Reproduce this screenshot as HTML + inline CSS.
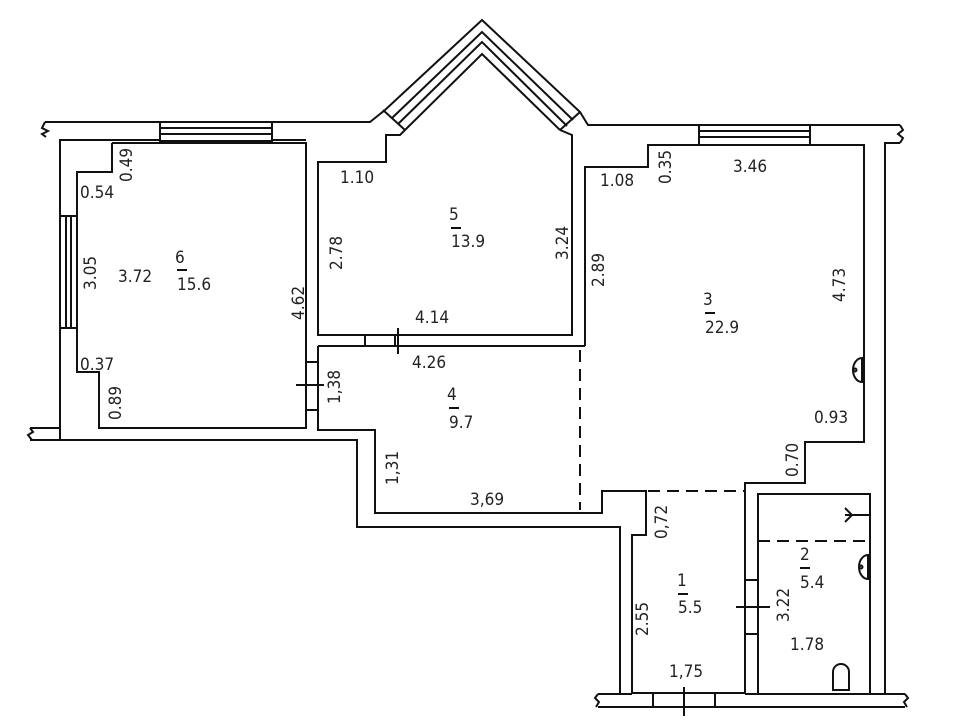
<!DOCTYPE html>
<html><head><meta charset="utf-8"><style>
html,body{margin:0;padding:0;background:#fff;width:960px;height:720px;overflow:hidden}
svg text{font-family:"DejaVu Sans Condensed","Liberation Sans",sans-serif;font-size:17px;fill:#222}
</style></head><body>
<svg width="960" height="720" viewBox="0 0 960 720" xmlns="http://www.w3.org/2000/svg">
<g fill="none" stroke="#111" stroke-width="2" stroke-linejoin="miter">
<polyline points="45,122 370,122 385,110 482,20 580,112 588,125 900,125"/>
<path d="M45,122 l-3,6 l6,3 l-6,3 l4,3 M900,125 l3,5 l-5,4 l5,4 l-3,5"/>
<polyline points="60,440 60,140 160,140"/>
<polyline points="272,140 306,140"/>
<polyline points="392,118 482,32 573,120"/>
<polyline points="398,124 482,42 567,126"/>
<polyline points="405,130 482,54 560,130"/>
<line x1="383" y1="110" x2="405" y2="130"/>
<line x1="580" y1="112" x2="560" y2="130"/>
<rect x="160" y="122" width="112" height="19"/>
<line x1="160" y1="128" x2="272" y2="128"/><line x1="160" y1="134" x2="272" y2="134"/>
<rect x="60" y="216" width="17" height="112"/>
<line x1="66" y1="216" x2="66" y2="328"/><line x1="71" y1="216" x2="71" y2="328"/>
<polyline points="112,143 306,143 306,428 99,428 99,372 77,372 77,172 112,172 112,143"/>
<polyline points="405,130 400,135 386,135 386,162 318,162 318,335 572,335 572,135 560,130"/>
<polyline points="585,346 585,167 648,167 648,145 864,145 864,442 805,442 805,483 745,483 745,693"/>
<rect x="699" y="125" width="111" height="20"/>
<line x1="699" y1="131" x2="810" y2="131"/><line x1="699" y1="137" x2="810" y2="137"/>
<polyline points="900,143 885,143 885,694"/>
<polyline points="318,346 585,346"/>
<polyline points="306,440 30,440"/>
<path d="M30,428 l3,4 l-5,3 l4,5"/>
<polyline points="30,428 60,428"/>
<polyline points="318,346 318,430 375,430 375,513 602,513 602,491 646,491 646,535 632,535 632,693 745,693"/>
<polyline points="306,440 357,440 357,527 620,527 620,694"/>
<rect x="306" y="362" width="12" height="48"/>
<line x1="296" y1="385" x2="324" y2="385"/>
<rect x="365" y="335" width="30" height="11"/>
<line x1="398" y1="328" x2="398" y2="354"/>
<rect x="745" y="580" width="13" height="54"/>
<line x1="736" y1="607" x2="770" y2="607"/>
<rect x="758" y="494" width="112" height="200"/>
<polyline points="598,707 905,707"/>
<polyline points="598,694 632,694"/>
<polyline points="745,694 905,694"/>
<path d="M598,694 l-3,4 l4,4 l-3,5 M905,694 l3,4 l-4,4 l3,5"/>
<line x1="653" y1="694" x2="653" y2="707"/><line x1="715" y1="694" x2="715" y2="707"/>
<line x1="684" y1="687" x2="684" y2="716"/>
<path d="M862,358 a9,12 0 1,0 0,24 z"/><circle cx="855" cy="370" r="1.5"/>
<path d="M868,555 a9,12 0 1,0 0,24 z"/><circle cx="861" cy="567" r="1.5"/>
<line x1="845" y1="515" x2="870" y2="515"/><polyline points="845,508 852,515 845,522"/>
<path d="M833,690 l0,-18 a8,8 0 0,1 16,0 l0,18 z"/>
</g>
<g fill="none" stroke="#111" stroke-width="2" stroke-dasharray="12,7">
<line x1="580" y1="350" x2="580" y2="510"/>
<line x1="648" y1="491" x2="745" y2="491"/>
<line x1="758" y1="541" x2="870" y2="541"/>
</g>
<g stroke="#111" stroke-width="2">
<line x1="177" y1="270" x2="187" y2="270"/>
<line x1="451" y1="228" x2="461" y2="228"/>
<line x1="705" y1="313" x2="715" y2="313"/>
<line x1="449" y1="408" x2="459" y2="408"/>
<line x1="678" y1="594" x2="688" y2="594"/>
<line x1="800" y1="568" x2="810" y2="568"/>
</g>
<text x="175" y="263">6</text><text x="177" y="290">15.6</text>
<text x="449" y="220">5</text><text x="451" y="247">13.9</text>
<text x="703" y="305">3</text><text x="705" y="333">22.9</text>
<text x="447" y="400">4</text><text x="449" y="428">9.7</text>
<text x="677" y="586">1</text><text x="678" y="613">5.5</text>
<text x="800" y="560">2</text><text x="800" y="588">5.4</text>
<text x="80" y="198">0.54</text>
<text x="118" y="282">3.72</text>
<text x="80" y="370">0.37</text>
<text x="340" y="183">1.10</text>
<text x="415" y="323">4.14</text>
<text x="412" y="368">4.26</text>
<text x="600" y="186">1.08</text>
<text x="733" y="172">3.46</text>
<text x="814" y="423">0.93</text>
<text x="470" y="505">3,69</text>
<text x="790" y="650">1.78</text>
<text x="669" y="677">1,75</text>
<g>
<text transform="translate(132,182) rotate(-90)">0.49</text>
<text transform="translate(96,290) rotate(-90)">3.05</text>
<text transform="translate(121,420) rotate(-90)">0.89</text>
<text transform="translate(304,320) rotate(-90)">4.62</text>
<text transform="translate(342,270) rotate(-90)">2.78</text>
<text transform="translate(568,260) rotate(-90)">3.24</text>
<text transform="translate(604,287) rotate(-90)">2.89</text>
<text transform="translate(671,184) rotate(-90)">0.35</text>
<text transform="translate(845,302) rotate(-90)">4.73</text>
<text transform="translate(340,404) rotate(-90)">1,38</text>
<text transform="translate(398,485) rotate(-90)">1,31</text>
<text transform="translate(798,477) rotate(-90)">0.70</text>
<text transform="translate(667,539) rotate(-90)">0,72</text>
<text transform="translate(648,636) rotate(-90)">2.55</text>
<text transform="translate(789,622) rotate(-90)">3.22</text>
</g>
</svg>
</body></html>
